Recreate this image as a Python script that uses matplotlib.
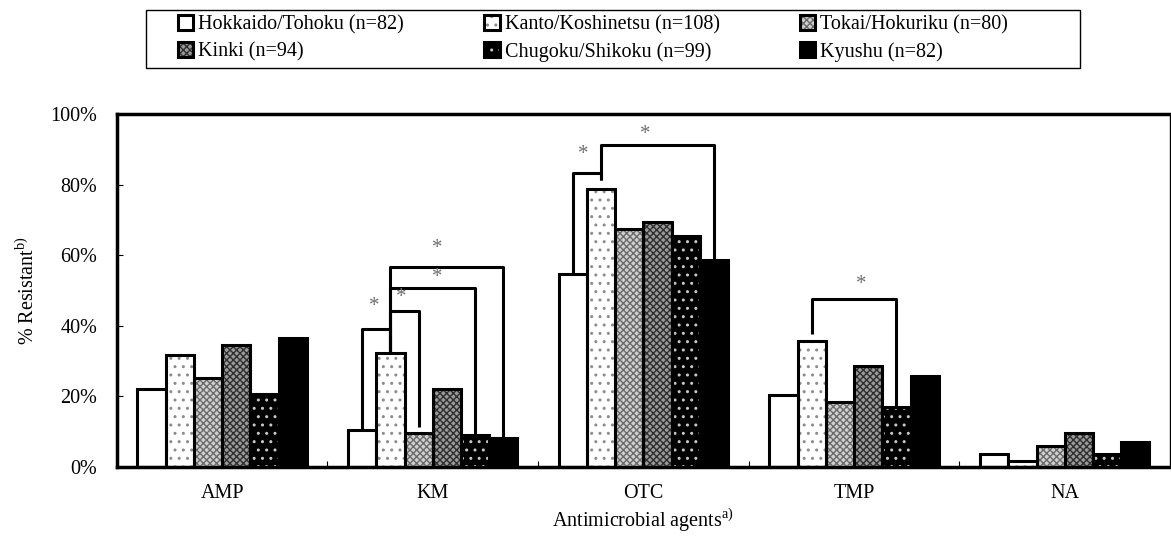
import matplotlib
matplotlib.use("Agg")
import matplotlib.pyplot as plt
from matplotlib.patches import Patch, Rectangle
import numpy as np

plt.rcParams['font.family'] = ['Liberation Serif', 'DejaVu Serif']
plt.rcParams['mathtext.fontset'] = 'custom'
plt.rcParams['mathtext.rm'] = 'Liberation Serif'
plt.rcParams['font.size'] = 14.5

agents = ["AMP", "KM", "OTC", "TMP", "NA"]
regions = ["Hokkaido/Tohoku (n=82)", "Kanto/Koshinetsu (n=108)", "Tokai/Hokuriku (n=80)",
           "Kinki (n=94)", "Chugoku/Shikoku (n=99)", "Kyushu (n=82)"]

# percent resistant per region, one list per region in agent order
hokkaido = [22.0, 10.6, 54.7, 20.3, 3.8]
kanto = [31.6, 32.3, 78.7, 35.7, 1.7]
tokai = [25.1, 9.5, 67.4, 18.4, 6.0]
kinki = [34.7, 22.2, 69.3, 28.5, 9.7]
chugoku = [20.6, 9.0, 65.5, 16.9, 3.8]
kyushu = [36.6, 8.3, 58.7, 25.7, 7.2]
series = [hokkaido, kanto, tokai, kinki, chugoku, kyushu]

# significance brackets: (agent, region a, region b, bracket top %, foot a %, foot b %, star pos in bar units, star %)
brackets = [
    (1, 0, 1, 39.1, 10.6, 32.3, 0.41, 45.5),
    (1, 1, 2, 44.1, 32.3, 11.4, 1.39, 48.1),
    (1, 1, 4, 50.7, 32.3, 9.0, 2.66, 53.6),
    (1, 1, 5, 56.6, 32.3, 8.3, 2.66, 62.0),
    (2, 0, 1, 83.4, 54.7, 81.4, 0.37, 88.6),
    (2, 1, 5, 91.2, 81.4, 58.7, 2.56, 94.1),
    (3, 1, 4, 47.6, 37.6, 16.9, 2.75, 51.7),
]

# face colour, hatch, hatch colour, hatch line width
styles = [
    ("white", None, "black", 1.0),
    ("white", "..", "#8c8c8c", 1.0),
    ("#d0d0d0", "xxxxx", "#6a6a6a", 1.0),
    ("#9a9a9a", "xxxxx", "#2e2e2e", 1.0),
    ("black", "..", "#c8c8c8", 1.0),
    ("black", None, "black", 1.0),
]

W, H = 1171, 539
fig = plt.figure(figsize=(W / 100, H / 100), dpi=100)
ax = fig.add_axes([0.0997, 0.1336, 0.8995, 0.6549])

x = np.arange(len(agents))
w = 0.134

handles = []
for i, (vals, (fc, hatch, hc, hlw)) in enumerate(zip(series, styles)):
    pos = x + (i - 2.5) * w
    v = np.array(vals) / 100
    ax.bar(pos, v, w, color=fc, linewidth=0, zorder=2)
    parts = [Patch(facecolor=fc, linewidth=0)]
    if hatch:
        with plt.rc_context({'hatch.linewidth': hlw}):
            ax.bar(pos, v, w, fill=False, hatch=hatch, edgecolor=hc, linewidth=0, zorder=3)
            parts.append(Patch(fill=False, hatch=hatch, edgecolor=hc, linewidth=0))
    ax.bar(pos, v, w, fill=False, edgecolor="black", linewidth=2.2, zorder=4)
    parts.append(Patch(fill=False, edgecolor="black", linewidth=2.2))
    handles.append(tuple(parts))

for g, a, b, top, fa, fb, sx, sy in brackets:
    xa = g + (a - 2.5) * w
    xb = g + (b - 2.5) * w
    ax.plot([xa, xa, xb, xb], [fa / 100, top / 100, top / 100, fb / 100],
            color="black", linewidth=2.2, zorder=5, solid_capstyle="butt")
    ax.text(g + (sx - 2.5) * w, sy / 100, "*", ha="center", va="center",
            fontsize=15, color="#6e6e6e", zorder=6)

ax.set_xlim(-0.5, len(agents) - 0.5)
ax.set_ylim(0, 1)
ax.set_yticks(np.linspace(0, 1, 6))
ax.set_yticklabels([f"{int(t)}%" for t in np.linspace(0, 100, 6)])
ax.set_xticks(x)
ax.set_xticklabels(agents)
ax.set_xticks(x[:-1] + 0.5, minor=True)
ax.tick_params(axis="x", which="major", length=0, pad=12)
ax.tick_params(axis="x", which="minor", direction="in", length=4, width=0.8)
ax.tick_params(axis="y", direction="in", length=4, width=0.8, pad=14)

for side in ["left", "top", "bottom"]:
    ax.spines[side].set_linewidth(2.5)
ax.spines["right"].set_linewidth(1.0)

ax.set_xlabel(r"Antimicrobial agents$^{\mathrm{a)}}$", labelpad=3)
ax.set_ylabel(r"% Resistant$^{\mathrm{b)}}$", labelpad=8)

# legend laid out row by row, boxed by a plain rectangle
order = [0, 3, 1, 4, 2, 5]
leg = fig.legend([handles[k] for k in order], [regions[k] for k in order], ncol=3,
                 loc="center left", bbox_to_anchor=(178 / W, 1 - 38.5 / H), frameon=False,
                 handlelength=0.75, handleheight=0.75, handletextpad=0.25,
                 columnspacing=4.0, labelspacing=0.38, borderpad=0, borderaxespad=0)
fig.patches.append(Rectangle((145.5 / W, 1 - 68 / H), (1080 - 145.5) / W, 58 / H,
                             transform=fig.transFigure, fill=False, edgecolor="black",
                             linewidth=1.0))

fig.savefig("out.png", dpi=100)
